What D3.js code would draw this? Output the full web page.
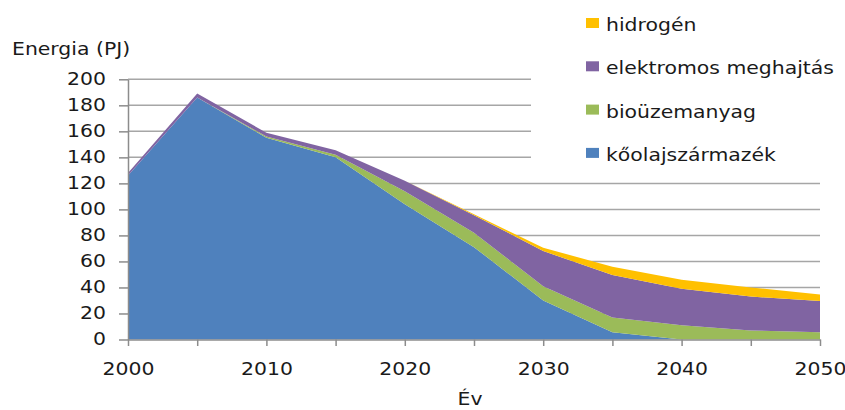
<!DOCTYPE html>
<html>
<head>
<meta charset="utf-8">
<script src="https://cdn.jsdelivr.net/npm/d3@7/dist/d3.min.js"></script>
<style>
  html, body { margin: 0; padding: 0; background: #fff; }
  svg { display: block; }
  text { font-family: "DejaVu Sans", sans-serif; font-size: 17px; fill: #1a1a1a; }
</style>
</head>
<body>
<svg id="chart" width="845" height="410"></svg>
<script>
// Years on the horizontal axis
const years = [2000, 2005, 2010, 2015, 2020, 2025, 2030, 2035, 2040, 2045, 2050];

// Energy use by source (PJ), stacked bottom to top
const koolaj     = [126, 186, 155, 140, 104, 71, 30, 5.5, 0, 0, 0];
const biouzem    = [0, 0, 1, 2, 10, 11, 11, 11.5, 11, 7, 5.5];
const elektromos = [2, 3, 3, 3.5, 8, 13.5, 27, 32.5, 28, 26, 24];
const hidrogen   = [0, 0, 0, 0, 0, 0.7, 2.5, 6.5, 7, 7, 5];

const seriesKeys   = ["koolaj", "biouzem", "elektromos", "hidrogen"];
const seriesNames  = ["kőolajszármazék", "bioüzemanyag", "elektromos meghajtás", "hidrogén"];
const seriesColors = ["#4F81BD", "#9BBB59", "#8064A2", "#FFC000"];

const yTicks = [0, 20, 40, 60, 80, 100, 120, 140, 160, 180, 200];
const xTickLabels = [2000, 2010, 2020, 2030, 2040, 2050];

const rows = years.map((yr, i) => ({
  year: yr,
  koolaj: koolaj[i],
  biouzem: biouzem[i],
  elektromos: elektromos[i],
  hidrogen: hidrogen[i]
}));

const svg = d3.select("#chart");
const plotLeft = 128, plotRight = 820, plotTop = 79.3, plotBottom = 339.5;
const sx = 1.2; // horizontal stretch of the label face

const x = d3.scaleLinear().domain([2000, 2050]).range([plotLeft, plotRight]);
const y = d3.scaleLinear().domain([0, 200]).range([plotBottom, plotTop]);

// Horizontal gridlines
svg.append("g")
  .selectAll("line")
  .data(yTicks.filter(d => d > 0))
  .join("line")
  .attr("x1", plotLeft).attr("x2", plotRight)
  .attr("y1", d => y(d)).attr("y2", d => y(d))
  .attr("stroke", "#a6a6a6")
  .attr("stroke-width", 1.5);

// Stacked areas
const stack = d3.stack().keys(seriesKeys);
const layers = stack(rows);
const area = d3.area()
  .x(d => x(d.data.year))
  .y0(d => y(d[0]))
  .y1(d => y(d[1]));

svg.append("g")
  .selectAll("path")
  .data(layers)
  .join("path")
  .attr("d", area)
  .attr("fill", (d, i) => seriesColors[i]);

// Y axis
const yAxis = svg.append("g")
  .attr("transform", `translate(${plotLeft},0)`)
  .call(d3.axisLeft(y).tickValues(yTicks).tickSize(9).tickSizeOuter(0));
yAxis.select(".domain").attr("stroke", "#8c8c8c").attr("stroke-width", 1.5);
yAxis.selectAll(".tick line").attr("stroke", "#8c8c8c").attr("stroke-width", 1.5);
yAxis.selectAll(".tick text")
  .attr("x", -22 / sx)
  .attr("transform", `scale(${sx},1)`)
  .style("font-size", "17px")
  .style("font-family", "DejaVu Sans, sans-serif")
  .attr("fill", "#1a1a1a");

// X axis: ticks every 5 years, labels every 10
const xAxis = svg.append("g")
  .attr("transform", `translate(0,${plotBottom})`)
  .call(d3.axisBottom(x).tickValues(years).tickSize(6.5).tickSizeOuter(0)
    .tickFormat(d => xTickLabels.includes(d) ? String(d) : ""));
xAxis.select(".domain").attr("stroke", "#8c8c8c").attr("stroke-width", 1.5);
xAxis.selectAll(".tick line").attr("stroke", "#8c8c8c").attr("stroke-width", 1.5);
xAxis.selectAll(".tick text")
  .attr("y", 23)
  .attr("transform", `scale(${sx},1)`)
  .style("font-size", "17px")
  .style("font-family", "DejaVu Sans, sans-serif")
  .attr("fill", "#1a1a1a");

// Axis titles
svg.append("text")
  .attr("transform", `translate(12,55) scale(${sx},1)`)
  .text("Energia (PJ)");
svg.append("text")
  .attr("transform", `translate(470,405) scale(${sx},1)`)
  .attr("text-anchor", "middle")
  .text("Év");

// Legend (white panel over the upper gridlines)
svg.append("rect")
  .attr("x", 531).attr("y", 0)
  .attr("width", 845 - 531).attr("height", 172)
  .attr("fill", "#fff");

const legendOrder = [3, 2, 1, 0];
const legend = svg.append("g")
  .selectAll("g")
  .data(legendOrder)
  .join("g")
  .attr("transform", (d, i) => `translate(586,${23 + i * 43.3})`);
legend.append("rect")
  .attr("x", 0).attr("y", -5)
  .attr("width", 13).attr("height", 10)
  .attr("fill", d => seriesColors[d]);
legend.append("text")
  .attr("transform", `translate(20,8) scale(${sx},1)`)
  .text(d => seriesNames[d]);
</script>
</body>
</html>
